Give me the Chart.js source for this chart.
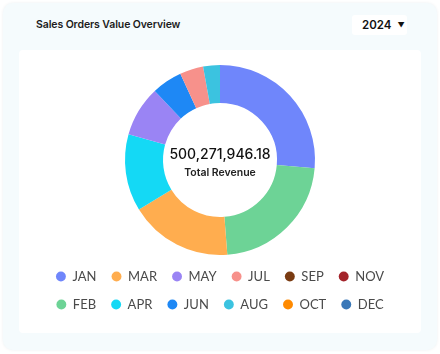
<!DOCTYPE html>
<html>
<head>
<meta charset="utf-8">
<script src="https://cdn.jsdelivr.net/npm/chart.js@4.4.1/dist/chart.umd.min.js"></script>
<style>
  body { margin: 0; background: #fff; font-family: Inter, sans-serif; }
  .card {
    position: absolute; left: 3px; top: 3px; width: 434px; height: 347px;
    background: #f5fbfd; border-radius: 10px;
    box-shadow: 0 0 3px rgba(0, 60, 90, 0.08);
  }
  .title {
    position: absolute; left: 33px; top: 15px;
    font-size: 10.5px; font-weight: 600; color: #1c1c1c; letter-spacing: -0.1px;
  }
  .year {
    position: absolute; left: 349px; top: 12px; width: 55px; height: 20px;
    background: #fff; border-radius: 3px;
    font-size: 11.5px; font-weight: 600; color: #111;
    line-height: 20px; box-sizing: border-box; padding-left: 10px;
  }
  .year span { font-size: 7px; margin-left: 6px; vertical-align: 1px; }
  .panel {
    position: absolute; left: 16px; top: 47px; width: 402px; height: 283px;
    background: #fff; border-radius: 4px;
  }
  .chart-box { position: absolute; left: 1px; top: 0; width: 400px; height: 283px; }
</style>
</head>
<body>
<div class="card">
  <div class="title">Sales Orders Value Overview</div>
  <div class="year">2024<span>&#9660;</span></div>
  <div class="panel">
    <div class="chart-box"><canvas id="salesChart"></canvas></div>
  </div>
</div>
<script>
const MONTHS = ["JAN", "FEB", "MAR", "APR", "MAY", "JUN", "JUL", "AUG", "SEP", "OCT", "NOV", "DEC"];
const ORDER_VALUES = [
  132000000, 112000000, 87500000, 65500000, 43000000, 26000000,
  20000000, 14271946.18, 0, 0, 0, 0
];
const MONTH_COLORS = [
  "#6f86fb", "#6dd396", "#ffad4f", "#14d9f5", "#9a84f4", "#1e88f5",
  "#f7918b", "#3bc3e0", "#7a3b12", "#ff8a00", "#a3232a", "#3a78b8"
];
const CENTER_LABEL = "Total Revenue";

function formatTotal(values) {
  const total = values.reduce((a, b) => a + b, 0);
  return total.toLocaleString("en-US", { minimumFractionDigits: 2, maximumFractionDigits: 2 });
}

// legend goes column-wise in the original: JAN MAR MAY ... / FEB APR JUN ...
function legendRank(i) {
  return (i % 2) * 6 + Math.floor(i / 2);
}

const centerText = {
  id: "centerText",
  afterDraw(chart) {
    const { ctx, chartArea } = chart;
    const cx = (chartArea.left + chartArea.right) / 2;
    const cy = (chartArea.top + chartArea.bottom) / 2;
    ctx.save();
    ctx.textAlign = "center";
    ctx.textBaseline = "middle";
    ctx.fillStyle = "#111";
    ctx.font = "500 14px Inter, sans-serif";
    ctx.fillText(formatTotal(ORDER_VALUES), cx, cy - 5);
    ctx.fillStyle = "#222";
    ctx.font = "600 10.5px Inter, sans-serif";
    ctx.fillText(CENTER_LABEL, cx, cy + 13);
    ctx.restore();
  },
};

document.addEventListener("DOMContentLoaded", () => {
  const ctx = document.getElementById("salesChart").getContext("2d");
  new Chart(ctx, {
    type: "doughnut",
    data: {
      labels: MONTHS,
      datasets: [{
        data: ORDER_VALUES,
        backgroundColor: MONTH_COLORS,
        borderWidth: 0,
      }],
    },
    options: {
      responsive: true,
      maintainAspectRatio: false,
      animation: false,
      cutout: "60%",
      layout: { padding: { top: 15, bottom: 12 } },
      plugins: {
        tooltip: { enabled: false },
        legend: {
          position: "bottom",
          labels: {
            usePointStyle: true,
            pointStyle: "circle",
            boxWidth: 10,
            boxHeight: 7,
            padding: 15,
            color: "#4a4a4a",
            font: { family: "Lato, sans-serif", size: 13 },
            sort: (a, b) => legendRank(a.index) - legendRank(b.index),
          },
        },
      },
    },
    plugins: [centerText],
  });
});
</script>
</body>
</html>
